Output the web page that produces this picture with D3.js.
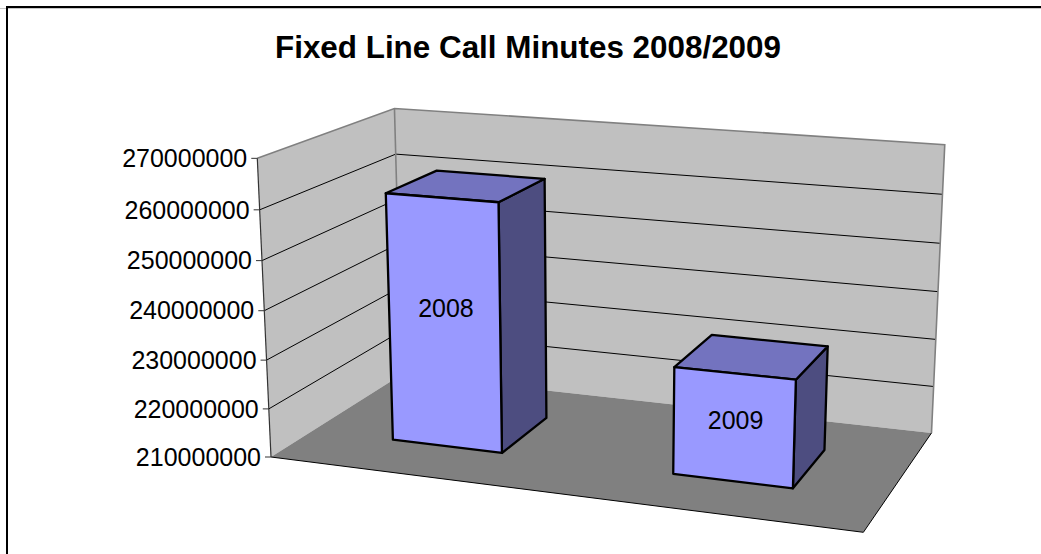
<!DOCTYPE html>
<html>
<head>
<meta charset="utf-8">
<script src="https://cdn.jsdelivr.net/npm/d3@7"></script>
<style>
html,body{margin:0;padding:0;background:#fff;overflow:hidden}
svg{display:block}
text{font-family:"Liberation Sans",Arial,sans-serif;fill:#000}
</style>
</head>
<body>
<svg id="c" width="1041" height="554"></svg>
<script>
const chartTitle = "Fixed Line Call Minutes 2008/2009";
const categories = ["2008", "2009"];
const values = [261000000, 231600000];
const tickValues = [210000000, 220000000, 230000000, 240000000, 250000000, 260000000, 270000000];
const tickLabels = ["210000000", "220000000", "230000000", "240000000", "250000000", "260000000", "270000000"];

const W = 1041, H = 554;
const svg = d3.select("#c");

// Scales in chart space: u across, w into the depth, v up the value axis
const vScale = d3.scaleLinear().domain([210000000, 270000000]).range([0, 1]);
const uScale = d3.scaleBand().domain(categories).range([0, 1]).paddingInner(0.6).paddingOuter(0.3);
const wScale = d3.scaleBand().domain(["s"]).range([0, 1]).paddingInner(0.6).paddingOuter(0.3);

// Perspective projection of the 3D chart box onto the page
const M = {a:512.5, b:183, c:271, d:26.06, e:-33.78, f:457, g:-0.0925, h:0.1301, A:-24, B:-305, C:-0.04};
function P(u, w, v) {
  const k = M.g*u + M.h*w + 1 + M.C*v;
  return [(M.a*u + M.b*w + M.c + M.A*v)/k, (M.d*u + M.e*w + M.f + M.B*v)/k];
}
const line = d3.line();
const closed = pts => line(pts) + "Z";

// Border of the chart area (top and left only are in frame)
svg.append("rect").attr("x",0).attr("y",8).attr("width",W).attr("height",1).attr("fill","#c8c8c8");
svg.append("rect").attr("x",6).attr("y",6).attr("width",W-6).attr("height",2).attr("fill","#000");
svg.append("rect").attr("x",6).attr("y",6).attr("width",2).attr("height",H-6).attr("fill","#000");

// Title
svg.append("text").attr("x",528).attr("y",58).attr("text-anchor","middle")
  .attr("font-size",31.4).attr("font-weight","bold").text(chartTitle);

// Walls
svg.append("path").attr("d",closed([P(0,0,0),P(0,1,0),P(0,1,1),P(0,0,1)])).attr("fill","#c0c0c0");
svg.append("path").attr("d",closed([P(0,1,0),P(1,1,0),P(1,1,1),P(0,1,1)])).attr("fill","#c0c0c0");

// Gridlines along both walls
svg.append("g").selectAll("path").data(tickValues.slice(1,-1)).join("path")
  .attr("d",t=>line([P(0,0,vScale(t)),P(0,1,vScale(t)),P(1,1,vScale(t))]))
  .attr("fill","none").attr("stroke","#000").attr("stroke-width",1);

// Wall frame
const frame = svg.append("g").attr("fill","none").attr("stroke","#808080").attr("stroke-width",1.6);
frame.append("path").attr("d",line([P(0,0,1),P(0,1,1),P(1,1,1),P(1,1,0)]));
frame.append("path").attr("d",line([P(0,1,1),P(0,1,0)]));

// Floor
svg.append("path").attr("d",closed([P(0,0,0),P(1,0,0),P(1,1,0),P(0,1,0)])).attr("fill","#808080");
svg.append("path").attr("d",line([P(0,0,0),P(1,0,0),P(1,1,0)])).attr("fill","none").attr("stroke","#000").attr("stroke-width",1);

// Value axis with ticks and labels
svg.append("path").attr("d",line([P(0,0,0),P(0,0,1)])).attr("fill","none").attr("stroke","#333").attr("stroke-width",1.2);
const ax = svg.append("g").selectAll("g").data(tickValues).join("g");
ax.append("path").attr("d",t=>{const p=P(0,0,vScale(t));return line([[p[0]-6,p[1]],p]);})
  .attr("fill","none").attr("stroke","#333").attr("stroke-width",1);
ax.append("text").attr("x",t=>P(0,0,vScale(t))[0]-10).attr("y",t=>P(0,0,vScale(t))[1])
  .attr("dy","0.35em").attr("text-anchor","end").attr("font-size",25).text((t,i)=>tickLabels[i]);

// Bars
const rows = categories.map((c,i)=>({c, value:values[i]}));
const bars = svg.append("g").selectAll("g").data(rows).join("g")
  .attr("stroke","#000").attr("stroke-width",2.3).attr("stroke-linejoin","round");
const u0 = d=>uScale(d.c), u1 = d=>uScale(d.c)+uScale.bandwidth();
const w0 = wScale("s"), w1 = wScale("s")+wScale.bandwidth();
bars.append("path").attr("fill","#4d4d80").attr("d",d=>{const v=vScale(d.value);
  return closed([P(u1(d),w0,0),P(u1(d),w1,0),P(u1(d),w1,v),P(u1(d),w0,v)]);});
bars.append("path").attr("fill","#7373bf").attr("d",d=>{const v=vScale(d.value);
  return closed([P(u0(d),w0,v),P(u1(d),w0,v),P(u1(d),w1,v),P(u0(d),w1,v)]);});
bars.append("path").attr("fill","#9999ff").attr("d",d=>{const v=vScale(d.value);
  return closed([P(u0(d),w0,0),P(u1(d),w0,0),P(u1(d),w0,v),P(u0(d),w0,v)]);});

// Bar labels on the front faces
svg.append("g").selectAll("text").data(rows).join("text")
  .attr("text-anchor","middle").attr("dy","0.35em").attr("font-size",25)
  .attr("x",d=>P(uScale(d.c)+uScale.bandwidth()/2,w0,vScale(d.value)*0.565)[0]+2)
  .attr("y",d=>P(uScale(d.c)+uScale.bandwidth()/2,w0,vScale(d.value)*0.565)[1])
  .text(d=>d.c);
</script>
</body>
</html>
